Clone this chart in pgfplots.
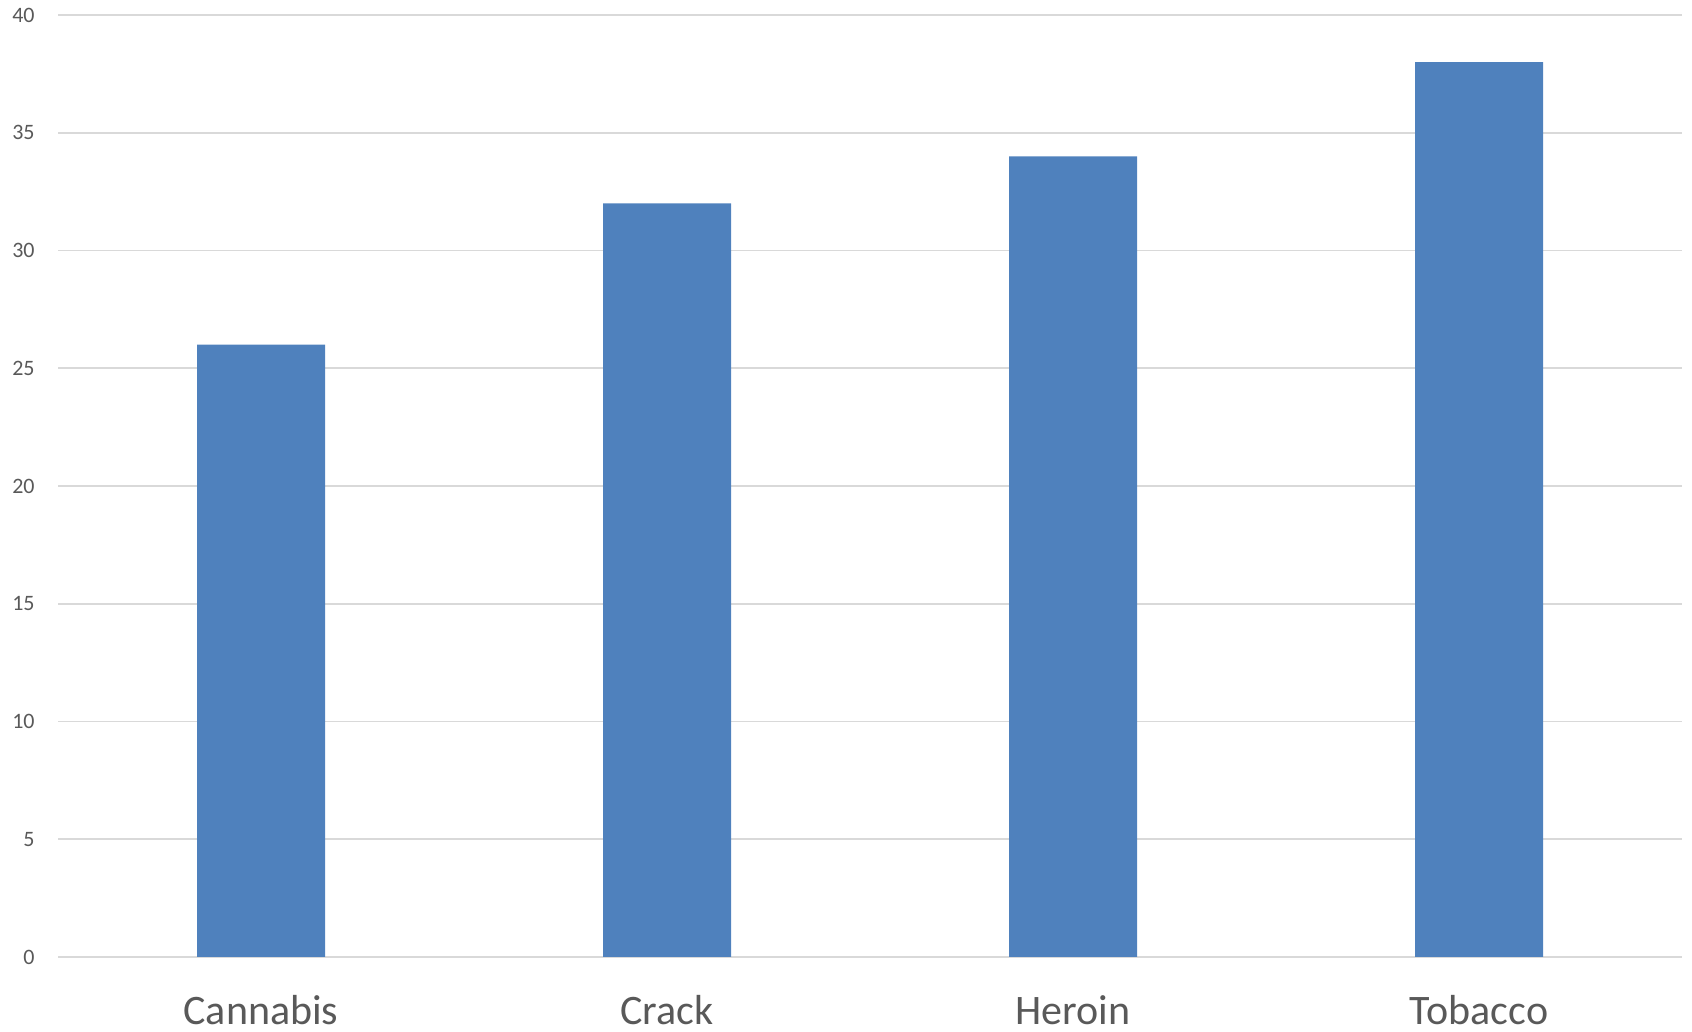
\documentclass[border=0pt]{standalone}
\usepackage{fontspec}
\setmainfont{Carlito}
\usepackage{pgfplots}
\pgfplotsset{compat=1.18}
\definecolor{barblue}{RGB}{79,129,189}
\definecolor{gridgray}{RGB}{217,217,217}
\definecolor{labelgray}{RGB}{89,89,89}
\begin{document}
\begin{tikzpicture}
\useasboundingbox (-29pt,-37.5pt) rectangle (817pt,478.5pt);
\begin{axis}[
  at={(0,0)}, anchor=south west,
  scale only axis,
  width=812pt, height=471pt,
  xmin=-0.5, xmax=3.5,
  ymin=0, ymax=40,
  ytick={0,5,...,40},
  xtick={0,1,2,3},
  xticklabels={Cannabis,Crack,Heroin,Tobacco},
  axis line style={draw=none},
  major tick length=0pt,
  ymajorgrids,
  grid style={gridgray, line width=0.9pt},
  /pgf/number format/assume math mode=true,
  yticklabel style={font=\fontsize{11}{13}\selectfont, text=labelgray, anchor=east, inner sep=0pt, xshift=-11.5pt},
  xticklabel style={font=\fontsize{21}{25}\selectfont, text=labelgray, anchor=base, inner sep=0pt, text depth=0pt, yshift=-34pt},
  ybar, bar width=64pt,
  clip=false,
]
\addplot[fill=barblue, draw=none] coordinates {(0,26) (1,32) (2,34) (3,38)};
\end{axis}
\end{tikzpicture}
\end{document}
